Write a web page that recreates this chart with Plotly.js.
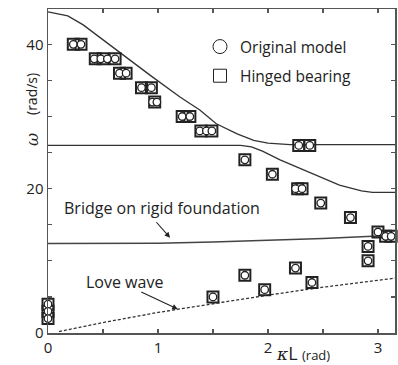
<!DOCTYPE html>
<html>
<head>
<meta charset="utf-8">
<script src="https://cdn.plot.ly/plotly-3.0.1.min.js"></script>
<style>html,body{margin:0;padding:0;background:#fff;}#chart{width:398px;height:365px;}</style>
</head>
<body>
<div id="chart"></div>
<script>
// Measured points (kappa*L in rad, omega in rad/s)
const originalX = [0, 0, 0, 0.23, 0.30, 0.42, 0.48, 0.54, 0.61, 0.65, 0.71, 0.85, 0.94, 0.95, 0.99, 1.22, 1.29, 1.38, 1.44, 1.49, 1.50, 1.79, 1.79, 1.97, 2.04, 2.25, 2.25, 2.31, 2.28, 2.38, 2.40, 2.48, 2.75, 2.91, 2.91, 3.00, 3.07, 3.12];
const originalY = [4, 3, 2, 40, 40, 38, 38, 38, 38, 36, 36, 34, 34, 32, 32, 30, 30, 28, 28, 28, 5, 24, 8, 6, 22, 9, 20, 20, 26, 26, 7, 18, 16, 12, 10, 14, 13.4, 13.4];
const hingedX = [0, 0, 0, 0.23, 0.30, 0.43, 0.50, 0.61, 0.65, 0.71, 0.85, 0.94, 0.97, 1.22, 1.29, 1.39, 1.49, 1.50, 1.79, 1.79, 1.97, 2.04, 2.25, 2.27, 2.31, 2.28, 2.38, 2.40, 2.48, 2.75, 2.91, 2.91, 3.00, 3.07, 3.12];
const hingedY = [4, 3, 2, 40, 40, 38, 38, 38, 36, 36, 34, 34, 32, 30, 30, 28, 28, 5, 24, 8, 6, 22, 9, 20, 20, 26, 26, 7, 18, 16, 12, 10, 14, 13.4, 13.4];

// Theoretical curves
const upperX = [0, 0.18, 0.32, 0.62, 0.93, 1.20, 1.38, 1.53, 1.72, 1.87, 2.00, 2.20, 3.155];
const upperY = [44.5, 43.95, 42.7, 39.2, 35.7, 32.7, 30.9, 29.0, 27.6, 26.7, 26.3, 26.1, 26.1];
const lowerX = [0, 1.75, 1.85, 1.95, 2.11, 2.38, 2.65, 2.85, 2.95, 3.155];
const lowerY = [26.0, 26.0, 25.8, 25.2, 24.0, 22.3, 20.5, 19.7, 19.5, 19.5];
const rigidX = [0, 1.0, 1.5, 2.0, 2.5, 3.0, 3.155];
const rigidY = [12.4, 12.45, 12.6, 12.8, 13.1, 13.45, 13.6];
const loveX = [0.1, 0.5, 1.0, 1.5, 2.0, 2.5, 3.155];
const loveY = [0.2, 1.45, 2.85, 4.1, 5.25, 6.35, 7.6];

const xTickVals = [0, 0.5, 1, 1.5, 2, 2.5, 3];
const xTickText = ['0', '', '1', '', '2', '', '3'];
const yTickVals = [0, 5, 10, 15, 20, 25, 30, 35, 40];
const yTickText = ['0', '', '', '', '20', '', '', '', '40'];

const FONT = 'Open Sans, Lato, sans-serif';
const INK = '#222';

const lineStyle = {color: '#333', width: 1.3};
const traces = [
  {x: upperX, y: upperY, mode: 'lines', line: lineStyle, showlegend: false, hoverinfo: 'skip'},
  {x: lowerX, y: lowerY, mode: 'lines', line: lineStyle, showlegend: false, hoverinfo: 'skip'},
  {x: rigidX, y: rigidY, mode: 'lines', line: {color: '#444', width: 1.5}, showlegend: false, hoverinfo: 'skip'},
  {x: loveX, y: loveY, mode: 'lines', line: {color: '#333', width: 1.3, dash: '3px,2px'}, showlegend: false, hoverinfo: 'skip'},
  {x: hingedX, y: hingedY, mode: 'markers', cliponaxis: false, showlegend: false,
   marker: {symbol: 'square-open', size: 11, color: INK, line: {width: 2, color: INK}}},
  {x: originalX, y: originalY, mode: 'markers', cliponaxis: false, showlegend: false,
   marker: {symbol: 'circle', size: 7.5, color: '#fff', line: {width: 1.3, color: INK}}},
  // legend entries
  {x: [null], y: [null], mode: 'markers', name: 'Original model', legendgroup: 'a',
   marker: {symbol: 'circle-open', size: 14, color: INK, line: {width: 1}}},
  {x: [null], y: [null], mode: 'markers', name: 'Hinged bearing', legendgroup: 'b',
   marker: {symbol: 'square-open', size: 13, color: INK, line: {width: 1}}}
];

const axisCommon = {
  showline: true, linecolor: '#555', linewidth: 1.5, mirror: 'ticks',
  ticks: 'inside', ticklen: 4, tickcolor: '#555', tickwidth: 1.2,
  showgrid: false, zeroline: false, tickmode: 'array',
  tickfont: {family: FONT, size: 15, color: INK}
};

const P = (px) => (px - 48) / 347;
const Q = (py) => (333 - py) / 324;

const layout = {
  width: 398, height: 365,
  margin: {l: 48, r: 3, t: 9, b: 32},
  paper_bgcolor: '#fff', plot_bgcolor: '#fff',
  font: {family: FONT, color: INK},
  xaxis: Object.assign({}, axisCommon, {range: [0, 3.155], tickvals: xTickVals, ticktext: xTickText}),
  yaxis: Object.assign({}, axisCommon, {range: [0, 44.9], tickvals: yTickVals, ticktext: yTickText}),
  showlegend: true,
  legend: {x: P(200), y: Q(30), xanchor: 'left', yanchor: 'top', bgcolor: 'rgba(0,0,0,0)',
           font: {family: FONT, size: 15.5, color: INK}, tracegroupgap: 6, itemwidth: 30},
  annotations: [
    {xref: 'x', yref: 'y', x: 1.11, y: 13.2, ax: -15, ay: -17, text: '', showarrow: true,
     arrowhead: 2, arrowsize: 1, arrowwidth: 1.1, arrowcolor: INK},
    {xref: 'x', yref: 'y', x: 1.18, y: 3.3, ax: -38, ay: -18, text: '', showarrow: true,
     arrowhead: 2, arrowsize: 1, arrowwidth: 1.1, arrowcolor: INK},
    {xref: 'paper', yref: 'paper', x: P(162), y: Q(208), xanchor: 'center', yanchor: 'middle',
     text: 'Bridge on rigid foundation', showarrow: false, font: {family: FONT, size: 16, color: INK}},
    {xref: 'paper', yref: 'paper', x: P(124), y: Q(282), xanchor: 'center', yanchor: 'middle',
     text: 'Love wave', showarrow: false, font: {family: FONT, size: 16, color: INK}},
    {xref: 'paper', yref: 'paper', x: P(303), y: Q(353), xanchor: 'center', yanchor: 'middle',
     text: '<i style="font-family:DejaVu Serif">κ</i><span style="font-size:18px">L</span> <span style="font-size:13px">(rad)</span>',
     showarrow: false, font: {family: FONT, size: 17, color: INK}},
    {xref: 'paper', yref: 'paper', x: P(32), y: Q(140), xanchor: 'center', yanchor: 'middle', text: '<i>ω</i>',
     showarrow: false, textangle: -90, font: {family: 'DejaVu Serif', size: 16, color: INK}},
    {xref: 'paper', yref: 'paper', x: P(31), y: Q(94), xanchor: 'center', yanchor: 'middle', text: '(rad/s)',
     showarrow: false, textangle: -90, font: {family: FONT, size: 14, color: INK}}
  ]
};

Plotly.newPlot('chart', traces, layout, {displayModeBar: false, staticPlot: true});
</script>
</body>
</html>
